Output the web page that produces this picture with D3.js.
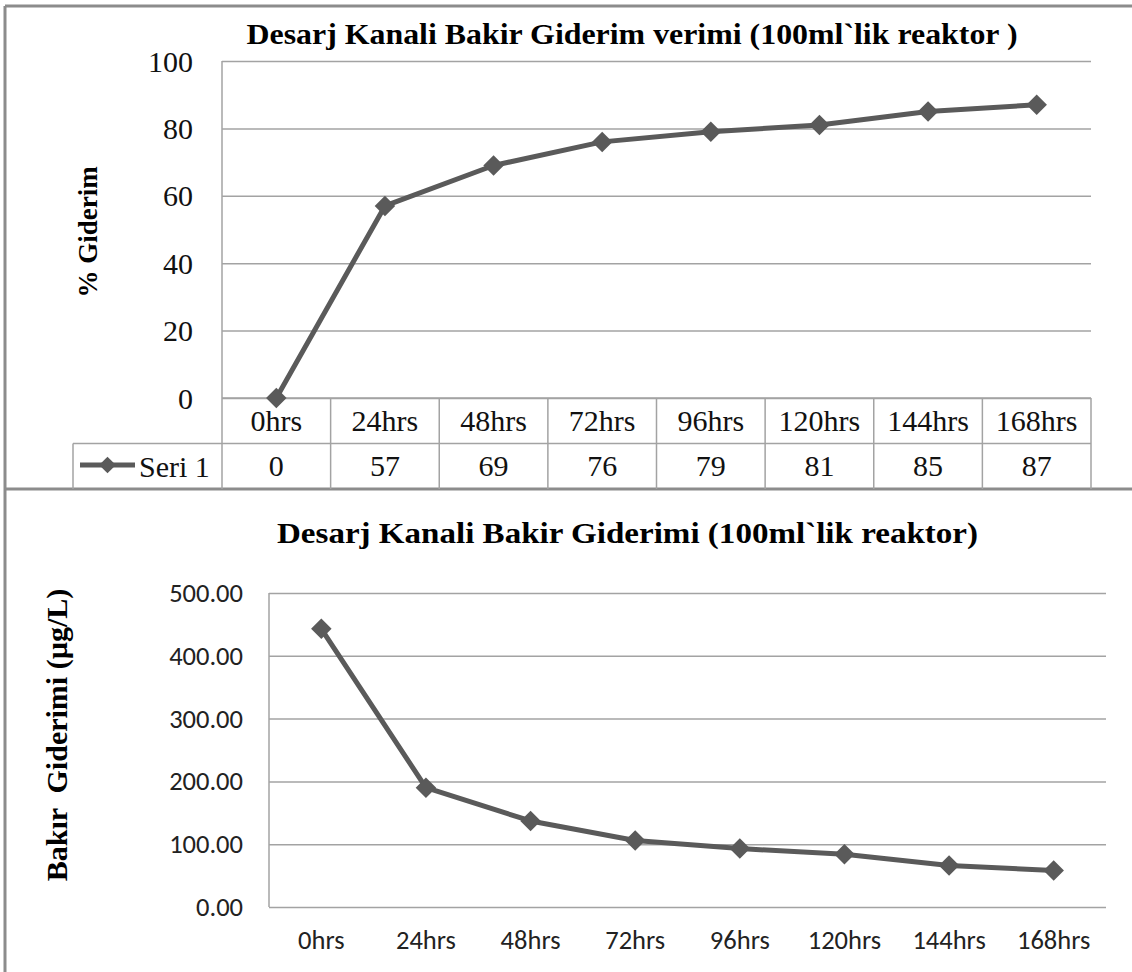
<!DOCTYPE html>
<html>
<head>
<meta charset="utf-8">
<script src="https://cdn.jsdelivr.net/npm/d3@7"></script>
<style>
  html, body { margin: 0; padding: 0; background: #fff; }
  #chart { display: block; }
  #chart text { white-space: pre; }
  #chart text.serif { font-family: "Liberation Serif", "Times New Roman", Times, serif; fill: #111; }
  #chart text.sans { font-family: Carlito, Calibri, "Liberation Sans", sans-serif; fill: #222; }
  #chart text.bold { font-weight: bold; fill: #000; }
</style>
</head>
<body>
<svg id="chart" width="1132" height="972"></svg>
<script>
// Sampling times shared by both panels
const categories = ["0hrs", "24hrs", "48hrs", "72hrs", "96hrs", "120hrs", "144hrs", "168hrs"];

// Removal efficiency (%) – upper panel, also listed in its data table
const removalPct = [0, 57, 69, 76, 79, 81, 85, 87];
const pctTicks = [0, 20, 40, 60, 80, 100];

// Copper removal (µg/L) – lower panel
const copperUgL = [443, 190, 137, 106, 93, 84, 66, 58];
const copperTicks = [0, 100, 200, 300, 400, 500];

const seriesName = "Seri 1";
const topTitle = "Desarj Kanali Bakir Giderim verimi (100ml`lik reaktor )";
const bottomTitle = "Desarj Kanali Bakir Giderimi (100ml`lik reaktor)";
const topYTitle = "% Giderim";
const bottomYTitle = "Bakır  Giderimi (µg/L)";

const LINE = "#5a5a5a";
const GRID = "#a3a3a3";
const FRAME = "#8c8c8c";

const svg = d3.select("#chart");

// ---------- outer frames ----------
const frameG = svg.append("g").attr("fill", "none").attr("stroke", FRAME).attr("stroke-width", 3);
frameG.append("line").attr("x1", 5).attr("x2", 1132).attr("y1", 6).attr("y2", 6);
frameG.append("line").attr("x1", 5).attr("x2", 5).attr("y1", 6).attr("y2", 972);
frameG.append("line").attr("x1", 5).attr("x2", 1132).attr("y1", 489).attr("y2", 489);

const marker = d3.symbol().type(d3.symbolSquare).size(210);
const legendMarker = d3.symbol().type(d3.symbolSquare).size(140);

// ================= Upper panel =================
const upper = { left: 222, right: 1091, top: 61, bottom: 398 };
const xTop = d3.scaleBand().domain(categories).range([upper.left, upper.right]);
const yTop = d3.scaleLinear().domain([0, 100]).range([upper.bottom, upper.top]);
const cxTop = c => xTop(c) + xTop.bandwidth() / 2;

svg.append("text").attr("class", "serif bold")
  .attr("x", 632).attr("y", 44)
  .attr("text-anchor", "middle").attr("font-size", 30)
  .attr("textLength", 771).attr("lengthAdjust", "spacingAndGlyphs")
  .text(topTitle);

// horizontal gridlines via a left axis with full-width ticks
const gTopGrid = svg.append("g")
  .attr("transform", `translate(${upper.left},0)`)
  .call(d3.axisLeft(yTop).tickValues(pctTicks).tickSize(-(upper.right - upper.left)).tickFormat(""));
gTopGrid.select(".domain").remove();
gTopGrid.selectAll(".tick line").attr("stroke", GRID).attr("stroke-width", 1.5);

// y tick labels
svg.append("g").selectAll("text").data(pctTicks).join("text").attr("class", "serif")
  .attr("x", 193).attr("y", d => yTop(d)).attr("dy", "0.35em")
  .attr("text-anchor", "end").attr("font-size", 30)
  .text(d => d);

svg.append("text").attr("class", "serif bold")
  .attr("transform", `translate(97,232) rotate(-90)`)
  .attr("text-anchor", "middle").attr("font-size", 27)
  .text(topYTitle);

// data table under the upper plot
const rowH = 45.5;
const tbl = svg.append("g").attr("stroke", GRID).attr("stroke-width", 1.5).attr("fill", "none");
// plot left edge running down through the table
tbl.append("line").attr("x1", upper.left).attr("x2", upper.left).attr("y1", upper.top).attr("y2", 489);
// row lines
tbl.append("line").attr("x1", upper.left).attr("x2", upper.right).attr("y1", upper.bottom).attr("y2", upper.bottom);
tbl.append("line").attr("x1", 73).attr("x2", upper.right).attr("y1", upper.bottom + rowH).attr("y2", upper.bottom + rowH);
// column lines
tbl.selectAll("line.col").data(categories.slice(1)).join("line").attr("class", "col")
  .attr("x1", d => xTop(d)).attr("x2", d => xTop(d))
  .attr("y1", upper.bottom).attr("y2", 489);
tbl.append("line").attr("x1", upper.right).attr("x2", upper.right).attr("y1", upper.bottom).attr("y2", 489);
tbl.append("line").attr("x1", 73).attr("x2", 73).attr("y1", upper.bottom + rowH).attr("y2", 489);

svg.append("g").selectAll("text").data(categories).join("text").attr("class", "serif")
  .attr("x", d => cxTop(d)).attr("y", 431)
  .attr("text-anchor", "middle").attr("font-size", 30)
  .text(d => d);

svg.append("g").selectAll("text").data(removalPct).join("text").attr("class", "serif")
  .attr("x", (d, i) => cxTop(categories[i])).attr("y", 476)
  .attr("text-anchor", "middle").attr("font-size", 30)
  .text(d => d);

// legend key in the table
const lg = svg.append("g");
lg.append("line").attr("x1", 80).attr("x2", 135).attr("y1", 465).attr("y2", 465)
  .attr("stroke", LINE).attr("stroke-width", 5);
lg.append("path").attr("d", legendMarker)
  .attr("transform", "translate(107.5,465) rotate(45)").attr("fill", LINE);
lg.append("text").attr("class", "serif").attr("x", 139).attr("y", 477)
  .attr("font-size", 30)
  .text(seriesName);

// series line and markers
const lineTop = d3.line().x((d, i) => cxTop(categories[i])).y(d => yTop(d));
svg.append("path").datum(removalPct)
  .attr("d", lineTop).attr("fill", "none")
  .attr("stroke", LINE).attr("stroke-width", 5).attr("stroke-linejoin", "round");
svg.append("g").selectAll("path").data(removalPct).join("path")
  .attr("d", marker)
  .attr("transform", (d, i) => `translate(${cxTop(categories[i])},${yTop(d)}) rotate(45)`)
  .attr("fill", LINE);

// ================= Lower panel =================
const lower = { left: 269, right: 1106, top: 593, bottom: 907 };
const xBot = d3.scaleBand().domain(categories).range([lower.left, lower.right]);
const yBot = d3.scaleLinear().domain([0, 500]).range([lower.bottom, lower.top]);
const cxBot = c => xBot(c) + xBot.bandwidth() / 2;

svg.append("text").attr("class", "serif bold")
  .attr("x", 627.5).attr("y", 543)
  .attr("text-anchor", "middle").attr("font-size", 30)
  .attr("textLength", 701).attr("lengthAdjust", "spacingAndGlyphs")
  .text(bottomTitle);

const gBotGrid = svg.append("g")
  .attr("transform", `translate(${lower.left},0)`)
  .call(d3.axisLeft(yBot).tickValues(copperTicks).tickSize(-(lower.right - lower.left)).tickFormat(""));
gBotGrid.select(".domain").remove();
gBotGrid.selectAll(".tick line").attr("stroke", GRID).attr("stroke-width", 1.5);
svg.append("line").attr("x1", lower.left).attr("x2", lower.left).attr("y1", lower.top).attr("y2", lower.bottom)
  .attr("stroke", GRID).attr("stroke-width", 1.5);

svg.append("g").selectAll("text").data(copperTicks).join("text").attr("class", "sans")
  .attr("x", 243).attr("y", d => yBot(d)).attr("dy", "0.34em")
  .attr("text-anchor", "end").attr("font-size", 26.5)
  .text(d3.format(".2f"));

svg.append("g").selectAll("text").data(categories).join("text").attr("class", "sans")
  .attr("x", d => cxBot(d)).attr("y", 949)
  .attr("text-anchor", "middle").attr("font-size", 26.5)
  .text(d => d);

svg.append("text").attr("class", "serif bold")
  .attr("xml:space", "preserve")
  .attr("transform", `translate(67,735) rotate(-90)`)
  .attr("text-anchor", "middle").attr("font-size", 30)
  .text(bottomYTitle);

const lineBot = d3.line().x((d, i) => cxBot(categories[i])).y(d => yBot(d));
svg.append("path").datum(copperUgL)
  .attr("d", lineBot).attr("fill", "none")
  .attr("stroke", LINE).attr("stroke-width", 5).attr("stroke-linejoin", "round");
svg.append("g").selectAll("path").data(copperUgL).join("path")
  .attr("d", marker)
  .attr("transform", (d, i) => `translate(${cxBot(categories[i])},${yBot(d)}) rotate(45)`)
  .attr("fill", LINE);
</script>
</body>
</html>
